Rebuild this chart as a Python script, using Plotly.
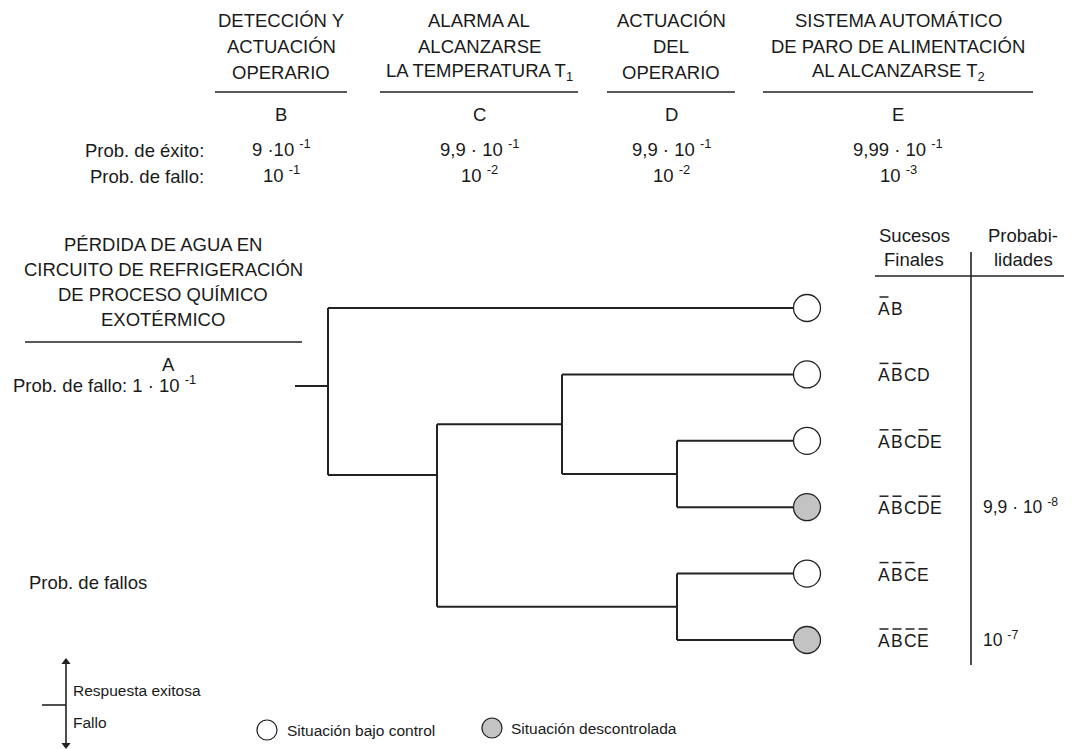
import plotly.graph_objects as go

# ---------------- data ----------------
events = ["B", "C", "D", "E"]
event_titles = [
    ["DETECCIÓN Y", "ACTUACIÓN", "OPERARIO"],
    ["ALARMA AL", "ALCANZARSE", "LA TEMPERATURA T<sub>1</sub>"],
    ["ACTUACIÓN", "DEL", "OPERARIO"],
    ["SISTEMA AUTOMÁTICO", "DE PARO DE ALIMENTACIÓN", "AL ALCANZARSE T<sub>2</sub>"],
]
p_exito = ["9 ·10 <sup>-1</sup>", "9,9 · 10 <sup>-1</sup>", "9,9 · 10 <sup>-1</sup>", "9,99 · 10 <sup>-1</sup>"]
p_fallo = ["10 <sup>-1</sup>", "10 <sup>-2</sup>", "10 <sup>-2</sup>", "10 <sup>-3</sup>"]

initiator_title = ["PÉRDIDA DE AGUA EN", "CIRCUITO DE REFRIGERACIÓN",
                   "DE PROCESO QUÍMICO", "EXOTÉRMICO"]
initiator_letter = "A"
initiator_pfallo = "Prob. de fallo: 1 · 10 <sup>-1</sup>"

# final sequences: letters and which letters carry an overline
seq_letters = ["AB", "ABCD", "ABCDE", "ABCDE", "ABCE", "ABCE"]
seq_bars = [[1, 0], [1, 1, 0, 0], [1, 1, 0, 1, 0], [1, 1, 0, 1, 1], [1, 1, 1, 0], [1, 1, 1, 1]]
seq_outcome = ["ok", "ok", "ok", "fail", "ok", "fail"]
seq_prob = ["", "", "", "9,9 · 10 <sup>-8</sup>", "", "10 <sup>-7</sup>"]

# tree structure: (event, [upper child, lower child]); ints are leaf indices
tree = ("B", [0, ("C", [("D", [1, ("E", [2, 3])]), ("E", [4, 5])])])

# ---------------- layout constants ----------------
W, H = 1072, 749
OFF = 8  # page body margin
FONT = "Liberation Sans, Arial, sans-serif"
TXT = "#1a1a1a"
LINE = "#222222"
col_x = {"B": 328, "C": 437, "D": 562, "E": 677}
end_x = 793
leaf_y0, leaf_dy = 308, 66.4
entry_override = {"C": 475}
root_y, root_x0 = 386, 295
header_cx = {"B": 281, "C": 479, "D": 671, "E": 898}
header_ul = {"B": (215, 347), "C": (380, 578), "D": (607, 735), "E": (763, 1033)}

fig = go.Figure()
shapes = []
annots = []


def line(x0, y0, x1, y1, w=2, c=LINE):
    shapes.append(dict(type="line", x0=x0, y0=y0, x1=x1, y1=y1,
                       line=dict(color=c, width=w), layer="above"))


def txt(x, y, s, size=18.5, anchor="center"):
    annots.append(dict(x=x, y=y, text=s, showarrow=False, xanchor=anchor,
                       yanchor="middle", font=dict(family=FONT, size=size, color=TXT)))


# ---------------- header (events) ----------------
for ev, title, pe, pf in zip(events, event_titles, p_exito, p_fallo):
    cx = header_cx[ev]
    for k, t in enumerate(title):
        txt(cx, 20 + 26 * k, t)
    x0, x1 = header_ul[ev]
    line(x0, 92, x1, 92, w=1.6)
    txt(cx, 114, ev)
    txt(cx, 148, pe)
    txt(cx, 174, pf)

txt(206, 150, "Prob. de éxito:", anchor="right")
txt(206, 176, "Prob. de fallo:", anchor="right")

# ---------------- initiating event ----------------
for k, t in enumerate(initiator_title):
    txt(163, 244 + 25 * k, t)
line(25, 342, 302, 342, w=1.6)
txt(168, 364, initiator_letter)
txt(11, 384, initiator_pfallo, anchor="left")

# ---------------- tree ----------------
leaf_ys = [leaf_y0 + i * leaf_dy for i in range(len(seq_letters))]


def draw(node):
    """returns entry y of node"""
    if isinstance(node, int):
        return leaf_ys[node]
    ev, kids = node
    x = col_x[ev]
    ys = []
    for kid in kids:
        ky = draw(kid)
        kx = end_x if isinstance(kid, int) else col_x[kid[0]]
        line(x, ky, kx, ky)
        ys.append(ky)
    line(x, ys[0], x, ys[-1])
    return entry_override.get(ev, (ys[0] + ys[-1]) / 2)


draw(tree)
line(root_x0, root_y, col_x[tree[0]], root_y)

# end circles
fig.add_trace(go.Scatter(
    x=[end_x + 14] * len(leaf_ys), y=leaf_ys, mode="markers", cliponaxis=False,
    marker=dict(size=27, symbol="circle",
                color=["#c3c3c3" if o == "fail" else "white" for o in seq_outcome],
                line=dict(color=LINE, width=1.3)),
    hoverinfo="skip", showlegend=False))

# final sequence labels with overlines
lx0, ldx = 884, 13
for y, letters, bars, pr in zip(leaf_ys, seq_letters, seq_bars, seq_prob):
    for i, (ch, b) in enumerate(zip(letters, bars)):
        cx = lx0 + i * ldx
        txt(cx, y + 1, ch, size=17.5)
        if b:
            line(cx - 4.5, y - 11, cx + 4.5, y - 11, w=1.5)
    if pr:
        txt(981, y - 1, pr, size=17.5, anchor="left")

# right header
txt(914, 235, "Sucesos")
txt(914, 259, "Finales")
txt(1023, 235, "Probabi-")
txt(1023, 259, "lidades")
line(875, 276, W, 276, w=1.6)
line(971, 252, 971, 665, w=1.6)

txt(27, 582, "Prob. de fallos", anchor="left")

# ---------------- legend ----------------
line(66, 664, 66, 744, w=1.6)
line(42, 705, 66, 705, w=1.6)
fig.add_trace(go.Scatter(x=[66, 66], y=[662, 745], mode="markers", cliponaxis=False,
                         marker=dict(symbol=["triangle-up", "triangle-down"], size=8,
                                     color=LINE),
                         hoverinfo="skip", showlegend=False))
txt(71, 690, "Respuesta exitosa", size=15.5, anchor="left")
txt(71, 722, "Fallo", size=15.5, anchor="left")
fig.add_trace(go.Scatter(x=[267, 492], y=[730, 728], mode="markers", cliponaxis=False,
                         marker=dict(size=20, color=["white", "#c3c3c3"],
                                     line=dict(color=LINE, width=1.2)),
                         hoverinfo="skip", showlegend=False))
txt(285, 730, "Situación bajo control", size=15.5, anchor="left")
txt(509, 728, "Situación descontrolada", size=15.5, anchor="left")

fig.update_layout(
    width=W - OFF, height=H - OFF, margin=dict(l=0, r=0, t=0, b=0),
    paper_bgcolor="white", plot_bgcolor="white",
    xaxis=dict(range=[OFF, W], visible=False, fixedrange=True),
    yaxis=dict(range=[H, OFF], visible=False, fixedrange=True),
    shapes=shapes, annotations=annots, showlegend=False,
)
fig.write_html("out.html")
